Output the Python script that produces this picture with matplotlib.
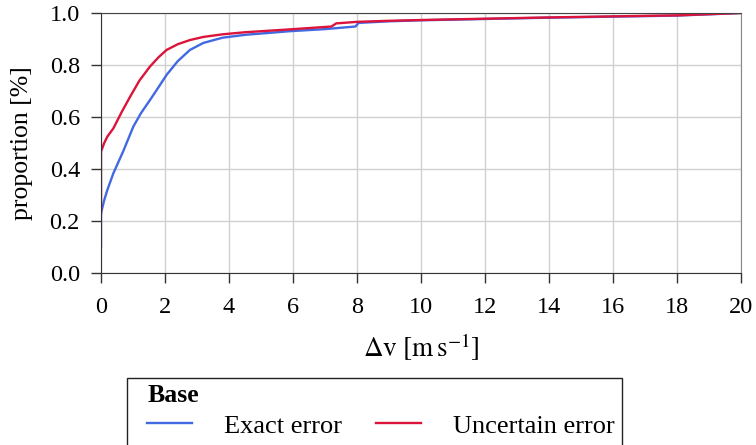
import matplotlib.pyplot as plt
from matplotlib.patches import Rectangle
import numpy as np

plt.rcParams['font.family'] = ['Liberation Serif', 'DejaVu Serif']
plt.rcParams['mathtext.fontset'] = 'stix'

# empirical CDF readings (x in m/s, y proportion)
exact_x = [0, 0, 0.1, 0.2, 0.385, 0.7, 1.01, 1.25, 1.53, 1.8, 2.05, 2.4, 2.78, 3.2, 3.8, 4.5, 5.9, 7.0, 7.95, 8.05, 9, 10, 12, 14, 16, 18, 20]
exact_y = [0.10, 0.23, 0.28, 0.32, 0.383, 0.47, 0.563, 0.615, 0.665, 0.715, 0.762, 0.815, 0.858, 0.885, 0.905, 0.916, 0.930, 0.938, 0.948, 0.962, 0.968, 0.972, 0.977, 0.982, 0.986, 0.990, 1.0]
uncert_x = [0, 0, 0.1, 0.2, 0.385, 0.65, 0.91, 1.2, 1.53, 1.8, 2.05, 2.4, 2.78, 3.2, 3.8, 4.5, 5.9, 7.2, 7.35, 8, 9, 10, 12, 14, 16, 18, 20]
uncert_y = [0.23, 0.467, 0.50, 0.525, 0.556, 0.62, 0.678, 0.74, 0.794, 0.83, 0.858, 0.880, 0.896, 0.908, 0.918, 0.926, 0.937, 0.948, 0.960, 0.966, 0.970, 0.973, 0.978, 0.983, 0.987, 0.991, 1.0]

W, H = 756, 445
fig = plt.figure(figsize=(W / 100, H / 100), dpi=100)
ax = fig.add_axes([101 / W, 1 - 273 / H, 640 / W, 260 / H])

ax.plot(exact_x, exact_y, color='#4169E1', lw=1.7, label='Exact error')
ax.plot(uncert_x, uncert_y, color='#DC143C', lw=1.7, label='Uncertain error')

ax.set_xlim(0, 20)
ax.set_ylim(0, 1.0)
ax.set_xticks(np.arange(0, 21, 2))
ax.set_yticks(np.arange(0, 1.01, 0.2))
ax.set_yticklabels([f"{v:.1f}" for v in np.arange(0, 1.01, 0.2)])
ax.grid(True, color='#d0d0d0', lw=1)
ax.set_axisbelow(True)
ax.tick_params(direction='out', length=7.2, width=1, labelsize=17.5, color='#333333')
ax.tick_params(axis='y', pad=8)
ax.tick_params(axis='x', pad=10)

for s in ['left', 'bottom']:
    ax.spines[s].set_color('#333333')
ax.spines['top'].set_color('#444444')
ax.spines['right'].set_color('#888888')

ax.set_xlabel(r'$\Delta\mathrm{v}\ [\mathrm{m\,s}^{-1}]$', fontsize=19.5, labelpad=10)
ax.set_ylabel('proportion [%]', fontsize=18.5, labelpad=12)

leg = fig.legend(loc='upper left', bbox_to_anchor=(142 / W, 1 - 379 / H), ncol=2,
                 title='Base', title_fontproperties={'weight': 'bold', 'size': 18.5},
                 alignment='left', fontsize=19, frameon=False,
                 handlelength=1.7, handletextpad=1.2, columnspacing=1.3,
                 borderpad=0.2, borderaxespad=0, labelspacing=0.3)
leg._legend_box.sep = 5

# legend box, open at the bottom edge of the figure
fig.patches.append(Rectangle((127 / W, -0.05), 495 / W, 0.05 + (H - 378) / H,
                             transform=fig.transFigure, fill=False,
                             edgecolor='#222222', lw=1.0))

plt.savefig('out.png', dpi=100)
